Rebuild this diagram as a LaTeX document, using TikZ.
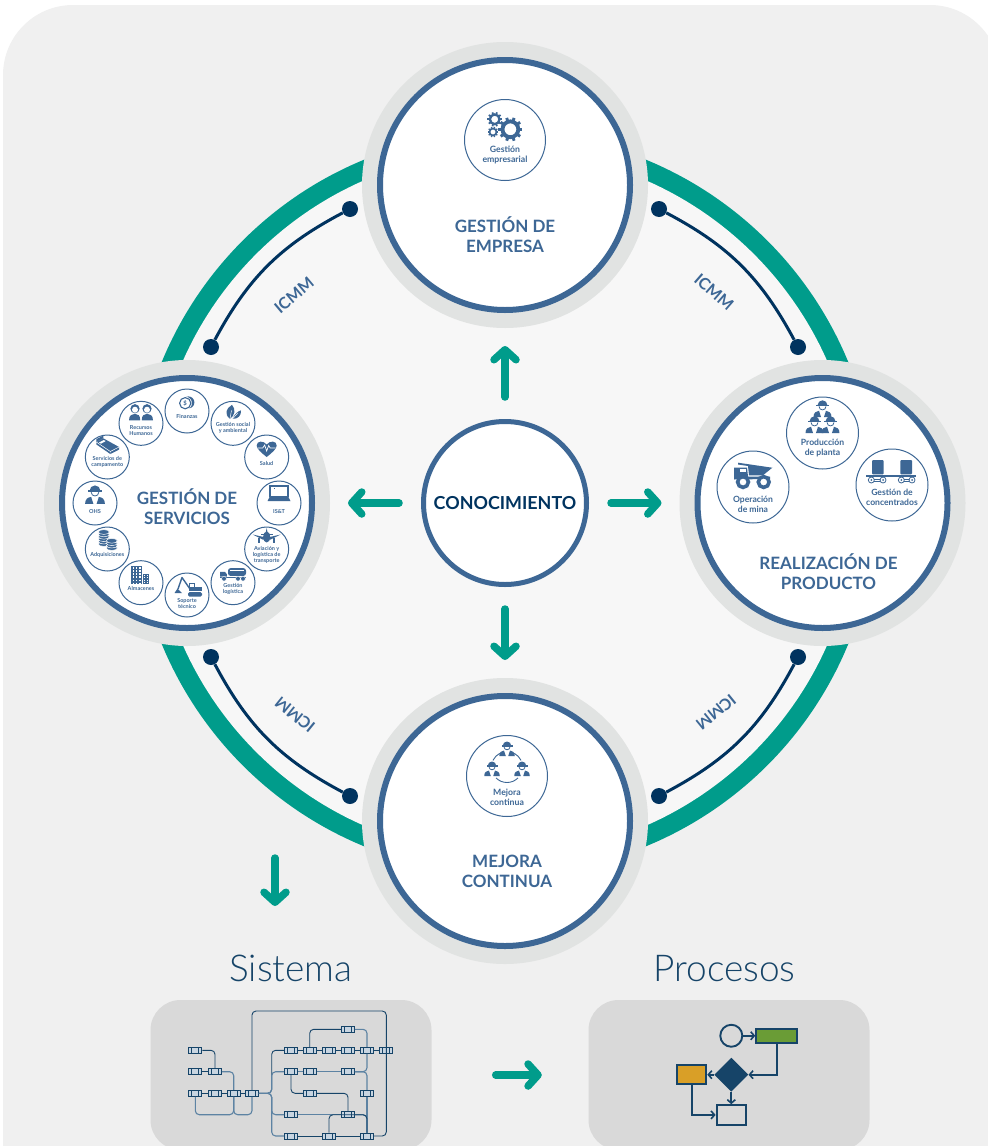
\documentclass[tikz,border=0pt]{standalone}
\usepackage{fontspec}
\setmainfont{Lato}
\newfontfamily\thinfont{Lato}[UprightFont=* Light]
\usetikzlibrary{shapes, positioning, arrows.meta, calc}
\definecolor{pagegrey}{HTML}{F0F0F0}
\definecolor{innergrey}{HTML}{F7F7F7}
\definecolor{halogrey}{HTML}{E1E3E2}
\definecolor{panelgrey}{HTML}{D9D9D9}
\definecolor{ringblue}{HTML}{3D6795}
\definecolor{navy}{HTML}{00335F}
\definecolor{teal}{HTML}{009C8B}
\definecolor{wiredark}{HTML}{164468}
\definecolor{wirelight}{HTML}{5D83A3}
\definecolor{blkfill}{HTML}{C8D5E1}
\definecolor{flowgreen}{HTML}{6A9C36}
\definecolor{floworange}{HTML}{D99F27}
\tikzset{
  stage/.style={
    circle,
    fill=white,
    draw=ringblue,
    line width=6pt,
    minimum size=250pt,
    preaction={draw=halogrey, line width=36pt}
  },
  stagetxt/.style={
    font=\fontsize{17}{20}\selectfont\bfseries,
    text=ringblue,
    align=center
  },
  hubnode/.style={
    circle,
    fill=white,
    draw=ringblue,
    line width=5pt,
    minimum size=163pt,
    font=\fontsize{17.9}{20}\selectfont\bfseries,
    text=navy
  },
  badge/.style={
    circle,
    fill=white,
    draw=ringblue,
    line width=1pt,
    inner sep=0pt,
    minimum size=44pt
  },
  badgebig/.style={badge, minimum size=72pt},
  badgetop/.style={badge, minimum size=81pt},
  tag/.style={
    font=\fontsize{5.5}{6}\selectfont\bfseries,
    text=ringblue,
    align=center,
    inner sep=0pt
  },
  tagbig/.style={tag, font=\fontsize{8.6}{10}\selectfont\bfseries},
  tagtop/.style={tag, font=\fontsize{8.7}{10}\selectfont\bfseries},
  standard/.style={
    font=\fontsize{16}{16}\selectfont\bfseries,
    text=ringblue,
    inner sep=0pt
  },
  joint/.style={circle, fill=navy, inner sep=0pt, minimum size=16pt},
  tie/.style={draw=navy, line width=3pt},
  flow/.style={
    draw=teal,
    line width=7.5pt,
    line cap=round,
    -{Straight Barb[length=10pt,width=22pt,line width=7.5pt,round]},
    shorten <=22pt,
    shorten >=33pt
  },
  panel/.style={
    rectangle,
    rounded corners=30pt,
    fill=panelgrey,
    minimum width=281pt,
    minimum height=150pt
  },
  heading/.style={
    font=\fontsize{37}{37}\selectfont\thinfont,
    text=wiredark,
    inner sep=0pt
  },
  blk/.style={
    rectangle,
    draw=wiredark,
    fill=blkfill,
    line width=.9pt,
    minimum width=13pt,
    minimum height=6pt,
    inner sep=0pt,
    path picture={
      \draw[wiredark, line width=.8pt]
        ([xshift=3pt]path picture bounding box.south west) -- ([xshift=3pt]path picture bounding box.north west)
        ([xshift=-3pt]path picture bounding box.south east) -- ([xshift=-3pt]path picture bounding box.north east);
    }
  },
  wire/.style={draw=wiredark, line width=.9pt, rounded corners=4pt},
  wirelt/.style={draw=wirelight, line width=1.1pt, rounded corners=4pt},
  chart/.style={draw=wiredark, line width=1.9pt, -{Straight Barb[length=3.5pt,width=8pt,line width=1.6pt]}},
  chartbox/.style={rectangle, draw=wiredark, line width=1.9pt, inner sep=0pt},
  ic/.style={fill=ringblue},
  icl/.style={draw=ringblue, line width=.8pt},
  % icons, drawn round their own centre
  pics/igear/.style={code={
    \draw[ringblue, line width=#1*.32pt] (0,0) circle[radius=#1*.66pt];
    \foreach \a in {0,36,...,324} {
      \draw[ringblue, line width=#1*.24pt] (\a:#1*.7pt) -- (\a:#1*1pt);
    }
  }},
  pics/iworker/.style={code={
    \fill[ic] (-3.4,-2.6) arc[start angle=180, end angle=0, radius=3.4pt] -- cycle;
    \fill[ic] (-4.4,-2.9) rectangle (4.4,-2);
    \draw[icl, line width=.8pt] (-2.4,-1.8) .. controls (-2.4,1.4) and (2.4,1.4) .. (2.4,-1.8);
    \fill[ic] (-6.2,5.6) .. controls (-6.2,2.5) and (-4.4,1.4) .. (-2.4,1.2) -- (-1,5.6) -- cycle;
    \fill[ic] (6.2,5.6) .. controls (6.2,2.5) and (4.4,1.4) .. (2.4,1.2) -- (1,5.6) -- cycle;
  }},
  pics/icoin/.style={code={
    \fill[ic] (2.4,-.6) circle[radius=6pt];
    \filldraw[fill=white, draw=white] (-.8,.2) circle[radius=6.4pt];
    \draw[icl, line width=1.1pt] (-.8,.2) circle[radius=5.6pt];
    \node[font=\fontsize{6}{6}\selectfont\bfseries, text=ringblue, inner sep=0pt] (dollar) at (-.8,.2) {\$};
  }},
  pics/ileaf/.style={code={
    \fill[ic] (-3,6.5) .. controls (-9,2) and (-7,-4) .. (-1,-7.5) .. controls (3,-3) and (2,3) .. (-3,6.5) -- cycle;
    \fill[ic] (-.5,6.5) .. controls (2,1) and (5,-1) .. (8,-2) .. controls (8.5,3) and (5,7) .. (-.5,6.5) -- cycle;
    \draw[white, line width=.5pt] (-3,6.5) -- (-1.5,-2) (-.5,6.5) -- (5,.5);
  }},
  pics/iheart/.style={code={
    \fill[ic] (0,8) .. controls (-5,4) and (-10,0) .. (-10,-3.5) .. controls (-10,-8.5) and (-3,-8.5) .. (0,-4.5) .. controls (3,-8.5) and (10,-8.5) .. (10,-3.5) .. controls (10,0) and (5,4) .. (0,8) -- cycle;
    \draw[white, line width=.7pt] (-9,-1) -- (-4,-1) -- (-2,-4) -- (0,2) -- (2,-3.5) -- (3.5,-1) -- (9,-1);
  }},
  pics/ilaptop/.style={code={
    \draw[icl, line width=1.1pt] (-9,-7) rectangle (9,3.5);
    \fill[ic] (-5,-5.5) rectangle (-3.8,-4.5);
    \fill[ic] (-9.5,4) -- (9.5,4) -- (11.5,8) -- (-11.5,8) -- cycle;
  }},
  pics/iplane/.style={code={
    \fill[ic] (-14,-2.5) -- (-3,0) -- (3,0) -- (14,-2.5) -- (4,2.5) -- (-4,2.5) -- cycle;
    \fill[ic] (0,-9) -- (1,-4) -- (-1,-4) -- cycle;
    \fill[ic] (-6,-3) -- (6,-3) -- (6,-2.4) -- (-6,-2.4) -- cycle;
    \fill[ic] (0,0) ellipse[x radius=3.6, y radius=5.5];
    \fill[ic] (-8.8,1) rectangle (-6.2,5.5);
    \fill[ic] (6.2,1) rectangle (8.8,5.5);
  }},
  pics/itanker/.style={code={
    \fill[ic, rounded corners=2.5pt] (-5,-6.5) rectangle (13,1.2);
    \draw[white, line width=.5pt] (-3,-4.5) -- (11,-4.5);
    \fill[ic] (-13,-2.8) -- (-8,-2.8) -- (-6.2,-.5) -- (-6.2,2) -- (-13,2) -- cycle;
    \fill[ic] (-13,2) rectangle (13,3.2);
    \filldraw[fill=ringblue, draw=white, line width=.4pt] (-9,4) circle[radius=2.4pt] (5,4) circle[radius=2.4pt] (10,4) circle[radius=2.4pt];
  }},
  pics/idigger/.style={code={
    \fill[ic, rounded corners=1.5pt] (1,5) rectangle (15,9.5);
    \fill[ic] (2,-4) rectangle (8,4.4);
    \fill[ic] (8,-.5) rectangle (15,4.4);
    \fill[white] (3.4,-2.8) rectangle (6.6,.4);
    \draw[ringblue, line width=1.4pt, line join=round] (3,2) -- (-5,-9.5) -- (-9,2);
    \fill[ic] (-9.5,1.5) -- (-12.5,6) -- (-5,6) -- cycle;
  }},
  pics/ibuilding/.style={code={
    \fill[ic] (-10,-10) rectangle (1.3,8.5);
    \fill[ic] (2,-1.7) rectangle (8,8.5);
    \draw[white, line width=1.5pt, dash pattern=on 1.5pt off 1.6pt] (-7.4,-8.5) -- (-7.4,8) (-4.3,-8.5) -- (-4.3,8) (-1.2,-8.5) -- (-1.2,8);
    \draw[white, line width=1pt, dash pattern=on 1pt off 1.2pt] (3.7,-.5) -- (3.7,8) (6.3,-.5) -- (6.3,8);
  }},
  pics/istack/.style={code={
    \foreach \yy in {4,1.6,-.8,-3.2,-5.6,-8} {
      \filldraw[fill=ringblue, draw=white, line width=.5pt] (-3.5,\yy) ellipse[x radius=5.5, y radius=2.4];
    }
    \foreach \yy in {8,5.6,3.2,.8} {
      \filldraw[fill=ringblue, draw=white, line width=.5pt] (4.5,\yy) ellipse[x radius=5.5, y radius=2.4];
    }
  }},
  pics/ibed/.style={code={
    \fill[ic] (-11,-3) -- (-4,-6.7) -- (-4,-9.5) -- (-11,-5.8) -- cycle;
    \fill[ic] (-11,-3) -- (-4,-6.7) -- (11.7,2) -- (3,6.5) -- cycle;
    \fill[white] (-8.4,-2.4) -- (-3.6,-5) -- (-1.6,-3.9) -- (-6.4,-1.3) -- cycle;
    \fill[ic] (-11,-3) -- (3,6.5) -- (3,9) -- (-11,-.6) -- cycle;
    \fill[ic] (3,6.5) -- (11.7,2) -- (11.7,4.6) -- (3,9) -- cycle;
    \draw[white, line width=.5pt] (-11,-3) -- (3,6.5) -- (11.7,2);
  }},
  pics/ipeople/.style={code={
    \fill[ic] (-12,8) .. controls (-12,3) and (-9,1.5) .. (-6,1.5) .. controls (-3,1.5) and (-.8,3) .. (-.8,8) -- cycle;
    \fill[ic] (12,8) .. controls (12,3) and (9,1.5) .. (6,1.5) .. controls (3,1.5) and (.8,3) .. (.8,8) -- cycle;
    \fill[ic] (-6,-3.6) circle[radius=4.6pt] (6,-3.6) circle[radius=4.6pt];
    \fill[white] (-6,-2.6) circle[radius=3pt] (6,-2.6) circle[radius=3pt];
  }},
  pics/itruck/.style={code={
    \fill[ic] (-15,-14.3) -- (19.3,-9.3) -- (10,-1.7) -- (-4,-1.7) -- (-5,-11) -- (-15,-12.5) -- cycle;
    \fill[ic] (-19,-9.5) -- (-6,-9.5) -- (-5,-.5) -- (17,-.5) -- (17,2) -- (-19,2.5) -- cycle;
    \fill[white] (-13.5,-8.5) rectangle (-7,-5);
    \filldraw[fill=white, draw=ringblue, line width=3.6pt] (-10,5) circle[radius=5.4pt] (10.7,5) circle[radius=5.4pt];
  }},
  pics/icart/.style={code={
    \fill[ic, rounded corners=1pt] (-20,-.6) rectangle (-8.3,-15);
    \fill[ic, rounded corners=1pt] (8.3,-.6) rectangle (20,-15);
    \fill[ic] (-25.7,-.2) rectangle (24.3,1.8);
    \draw[icl] (-20.7,5) circle[radius=3pt] (-9,5) circle[radius=3pt] (9.3,5) circle[radius=3pt] (20,5) circle[radius=3pt];
    \draw[icl] (-24,5) -- (-23.7,5) (-17.7,4) -- (-12,4) (-17.7,6) -- (-12,6) (12.3,4) -- (17,4) (12.3,6) -- (17,6);
    \fill[ic] (-20.7,5) circle[radius=1pt] (-9,5) circle[radius=1pt] (9.3,5) circle[radius=1pt] (20,5) circle[radius=1pt];
  }}
}

\begin{document}
\begin{tikzpicture}[x=1pt, y=-1pt]
\useasboundingbox (0,0) rectangle (988,1146);

% backdrop
\fill[pagegrey, rounded corners=70pt] (3,5) rectangle (1000,1230);
\fill[teal] (505,503) circle[radius=371pt];
\fill[innergrey] (505,503) circle[radius=352pt];

% nodes
\node[hubnode] (hub) at (505,503) {CONOCIMIENTO};

\node[stage, above = 318pt of hub.center, anchor=center,
      label={[stagetxt, yshift=-50pt]center:{GESTIÓN DE\\EMPRESA}}] (empresa) {};
\node[stage, right = 317.5pt of hub.center, anchor=center,
      label={[stagetxt, shift={(6pt,-69pt)}]center:{REALIZACIÓN DE\\PRODUCTO}}] (realiza) {};
\node[stage, below = 318pt of hub.center, anchor=center,
      label={[stagetxt, shift={(2pt,-50pt)}]center:{MEJORA\\CONTINUA}}] (mejora) {};
\node[stage, left = 318pt of hub.center, anchor=center,
      label={[stagetxt, yshift=-4pt]center:{GESTIÓN DE\\SERVICIOS}}] (servicios) {};

%% empresa
\node[badgetop, above = 45pt of empresa.center, anchor=center,
      label={[tagtop, yshift=-15pt]center:{Gestión\\empresarial}}] (gempresa) {};
\pic at ([shift={(5.4pt,10.7pt)}]gempresa.center) {igear=12};
\pic at ([shift={(-10.3pt,20.7pt)}]gempresa.center) {igear=7.3};
\pic at ([shift={(-12pt,8pt)}]gempresa.center) {igear=5.3};

%% realiza
\node[badgebig, above = 70pt of realiza.center, anchor=center,
      label={[tagbig, yshift=-15pt]center:{Producción\\de planta}}] (planta) {};
\node[badgebig, above left = 16pt and 69.5pt of realiza.center, anchor=center,
      label={[tagbig, yshift=-17pt]center:{Operación\\de mina}}] (mina) {};
\node[badgebig, above right = 18pt and 69.5pt of realiza.center, anchor=center,
      label={[tagbig, yshift=-12pt]center:{Gestión de\\concentrados}}] (concentrados) {};
\pic[scale=1.45] at ([yshift=24pt]planta.center) {iworker};
\pic[scale=1.45] at ([shift={(-8pt,8pt)}]planta.center) {iworker};
\pic[scale=1.45] at ([shift={(8pt,8pt)}]planta.center) {iworker};
\pic at ([yshift=10pt]mina.center) {itruck};
\pic at ([yshift=10pt]concentrados.center) {icart};

%% mejora
\node[badgetop, above right = 45pt and 2pt of mejora.center, anchor=center,
      label={[tagtop, yshift=-21pt]center:{Mejora\\continua}}] (gmejora) {};
\pic[scale=1.25] at ([yshift=27pt]gmejora.center) {iworker};
\pic[scale=1.25] at ([shift={(-15pt,7pt)}]gmejora.center) {iworker};
\pic[scale=1.25] at ([shift={(15pt,7pt)}]gmejora.center) {iworker};
\coordinate (cycle) at ([yshift=9pt]gmejora.center);
\draw[ringblue, line width=.9pt] ([shift={(225:15.5pt)}]cycle) arc[start angle=225, end angle=315, radius=15.5pt];
\draw[ringblue, line width=.9pt] ([shift={(62:15.5pt)}]cycle) arc[start angle=62, end angle=25, radius=15.5pt];
\draw[ringblue, line width=.9pt] ([shift={(118:15.5pt)}]cycle) arc[start angle=118, end angle=155, radius=15.5pt];

%% servicios
\node[badge, at={([shift={(90:92pt)}]servicios.center)},
      label={[tag, yshift=-5pt]center:Finanzas}] (finanzas) {};
\node[badge, at={([shift={(60:92pt)}]servicios.center)},
      label={[tag, yshift=-5pt]center:{Gestión social\\y ambiental}}] (social) {};
\node[badge, at={([shift={(30:92pt)}]servicios.center)},
      label={[tag, yshift=-6pt]center:Salud}] (salud) {};
\node[badge, at={([shift={(0:92pt)}]servicios.center)},
      label={[tag, yshift=-9pt]center:IS\&T}] (ist) {};
\node[badge, at={([shift={(-30:92pt)}]servicios.center)},
      label={[tag, yshift=-6pt]center:{Aviación y\\logística de\\transporte}}] (aviacion) {};
\node[badge, at={([shift={(-60:92pt)}]servicios.center)},
      label={[tag, yshift=-6pt]center:{Gestión\\logística}}] (logistica) {};
\node[badge, at={([shift={(-90:92pt)}]servicios.center)},
      label={[tag, yshift=-9pt]center:{Soporte\\técnico}}] (soporte) {};
\node[badge, at={([shift={(-120:92pt)}]servicios.center)},
      label={[tag, yshift=-6pt]center:Almacenes}] (almacenes) {};
\node[badge, at={([shift={(-150:92pt)}]servicios.center)},
      label={[tag, yshift=-6pt]center:Adquisiciones}] (adquisiciones) {};
\node[badge, at={([shift={(180:92pt)}]servicios.center)},
      label={[tag, yshift=-9pt]center:OHS}] (ohs) {};
\node[badge, at={([shift={(150:92pt)}]servicios.center)},
      label={[tag, yshift=-5pt]center:{Servicios de\\campamento}}] (campamento) {};
\node[badge, at={([shift={(120:92pt)}]servicios.center)},
      label={[tag, yshift=-7pt]center:{Recursos\\Humanos}}] (humanos) {};

\pic at ([shift={(-1pt,8pt)}]finanzas.center) {icoin};
\pic at ([yshift=11pt]social.center) {ileaf};
\pic at ([yshift=8pt]salud.center) {iheart};
\pic at ([yshift=10pt]ist.center) {ilaptop};
\pic at ([yshift=12pt]aviacion.center) {iplane};
\pic at ([yshift=8pt]logistica.center) {itanker};
\pic at ([yshift=8pt]soporte.center) {idigger};
\pic at ([yshift=7pt]almacenes.center) {ibuilding};
\pic at ([yshift=9pt]adquisiciones.center) {istack};
\pic[scale=1.6] at ([yshift=8pt]ohs.center) {iworker};
\pic at ([yshift=12pt]campamento.center) {ibed};
\pic at ([yshift=11pt]humanos.center) {ipeople};

% edges

%% ties
\node[joint] (tl1) at (350,209) {};
\node[joint] (tl2) at (211,347) {};
\node[joint] (tr1) at (659,209) {};
\node[joint] (tr2) at (798,347) {};
\node[joint] (bl1) at (211,657) {};
\node[joint] (bl2) at (350,796) {};
\node[joint] (br1) at (798,657) {};
\node[joint] (br2) at (659,796) {};
\draw[tie] (tl1) to[bend right=17] (tl2);
\draw[tie] (tr1) to[bend left=17] (tr2);
\draw[tie] (bl1) to[bend right=17] (bl2);
\draw[tie] (br1) to[bend left=17] (br2);
\node[standard, rotate=40] (icmmtl) at (294,295) {ICMM};
\node[standard, rotate=-41] (icmmtr) at (714,292) {ICMM};
\node[standard, rotate=141] (icmmbl) at (295,715) {ICMM};
\node[standard, rotate=219] (icmmbr) at (716,712) {ICMM};

%% hub
\draw[flow] (hub.north) -- (empresa.south);
\draw[flow] (hub.east) -- (realiza.west);
\draw[flow] (hub.south) -- (mejora.north);
\draw[flow] (hub.west) -- (servicios.east);

%% panels
\node[panel] (sistema) at (291,1075) {};
\node[panel] (procesos) at (729,1075) {};
\node[heading, above = 18pt of sistema.north, anchor=base] (tsistema) {Sistema};
\node[heading, above = 18pt of procesos.north, anchor=base, xshift=-4.5pt] (tprocesos) {Procesos};
\coordinate (dropa) at (275,858);
\coordinate (dropb) at (275,906);
\draw[flow, shorten <=0pt, shorten >=0pt] (dropa) -- (dropb);
\draw[flow, shorten <=64pt, shorten >=46.5pt] (sistema.east) -- (procesos.west);

%% sistema
\node[blk] (a8) at (348,1029.3) {};
\node[blk] (b1) at (195.3,1050.3) {};
\node[blk] (b5) at (291,1050.3) {};
\node[blk] (b6) at (309.7,1050.3) {};
\node[blk] (b7) at (329,1050.3) {};
\node[blk] (b8) at (348,1050.3) {};
\node[blk] (b9) at (367,1050.3) {};
\node[blk] (b10) at (386.3,1050.3) {};
\node[blk] (c1) at (195.3,1071.7) {};
\node[blk] (c2) at (215,1071.7) {};
\node[blk] (c5) at (291,1071.7) {};
\node[blk] (c6) at (309.7,1071.7) {};
\node[blk] (c8) at (348,1071.7) {};
\node[blk] (d1) at (195.3,1093.3) {};
\node[blk] (d2) at (215,1093.3) {};
\node[blk] (d3) at (233.7,1093.3) {};
\node[blk] (d4) at (252,1093.3) {};
\node[blk] (d6) at (309.7,1093.3) {};
\node[blk] (d9) at (367,1093.3) {};
\node[blk] (e5) at (291,1114.7) {};
\node[blk] (e8) at (348,1114.7) {};
\node[blk] (f5) at (291,1136) {};
\node[blk] (f7) at (329,1136) {};
\node[blk] (f9) at (367,1136) {};
\coordinate (u1) at (233.7,1114.7);
\coordinate (u2) at (252,1114.7);
\coordinate (bus) at (271.7,1093.3);
\coordinate (e9) at (367,1114.7);
\coordinate (wtop) at (386.3,1011);

\draw[wire] (b1.east) -| (c2.north);
\draw[wire] (c1) -- (c2);
\draw[wirelt] (c2.east) -| (d3.north);
\draw[wire] (d1) -- (d2) -- (d3) -- (d4);
\draw[wirelt] (d1.south) |- (u1) -- (d3.south);
\draw[wirelt] (d3.south) -- (u1) -- (u2) -- (d4.south);
\draw[wire] (d4.north) |- (wtop) -- (wtop |- f9.east) -- (f9.east);
\draw[wire] (d4.east) -| (bus |- b5.west) -- (b5.west);
\draw[wirelt] (d4.east) -| (bus |- c5.west) -- (c5.west);
\draw[wirelt] (d4.east) -| (bus |- e5.west) -- (e5.west);
\draw[wirelt] (d4.east) -| (bus |- f5.west) -- (f5.west);
\draw[wire] (b5) -- (b6) -- (b7) -- (b8) -- (b9) -- (b10);
\draw[wire] (b6.north) |- (a8.west);
\draw[wirelt] (a8.east) -| (b9.north);
\draw[wirelt] (c5) -- (c6) -- (c8);
\draw[wirelt] (c8.east) -| (b9.south);
\draw[wirelt] (c8.east) -| (d9.north);
\draw[wirelt] (d9.south) -- (f9.north);
\draw[wire] (c5.south) |- (d6.west);
\draw[wire] (d6.east) -| (e8.north);
\draw[wirelt] (e5) -- (e8);
\draw[wirelt] (e8.east) -| (f9.north);
\draw[wire] (f7.north) |- (e9) -- (f9.north);
\draw[wire] (f5) -- (f7) -- (f9);

%% procesos
\node[diamond, fill=wiredark, inner sep=0pt, minimum size=34pt] (decide) at (731.3,1074.7) {};
\node[circle, draw=wiredark, line width=1.9pt, inner sep=0pt, minimum size=22pt, above = 27pt of decide.center, anchor=south] (start) {};
\node[chartbox, fill=flowgreen, minimum width=41pt, minimum height=14pt, right = 24pt of start.center, anchor=west] (green) {};
\node[chartbox, fill=floworange, minimum width=29pt, minimum height=19pt, left = 24pt of decide.center, anchor=east] (orange) {};
\node[chartbox, minimum width=29.5pt, minimum height=19.5pt, below = 29.5pt of decide.center, anchor=north] (target) {};
\draw[chart] (start) -- (green);
\draw[chart] (green.south) |- (decide.east);
\draw[chart] (decide.west) -- (orange.east);
\draw[chart] (decide.south) -- (target.north);
\draw[chart] (orange.south) |- (target.west);

\end{tikzpicture}
\end{document}
